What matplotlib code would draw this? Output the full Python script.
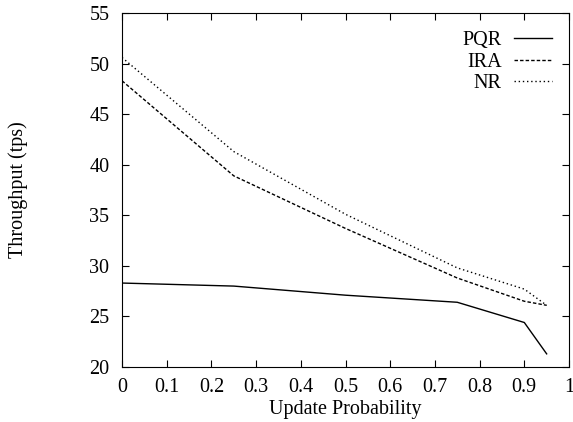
import matplotlib
matplotlib.use('Agg')
import matplotlib.pyplot as plt

# data
update_prob = [0, 0.25, 0.5, 0.75, 0.9, 0.95]
pqr = [28.3, 28.0, 27.1, 26.4, 24.4, 21.3]
ira = [48.3, 38.9, 33.7, 28.8, 26.5, 26.1]
nr = [50.6, 41.3, 35.1, 29.8, 27.7, 26.1]

plt.rcParams['font.family'] = 'Liberation Serif'
plt.rcParams['font.size'] = 14.5

fig = plt.figure(figsize=(5.73, 4.22), dpi=100)
ax = fig.add_axes([122/573, 1 - 367/422, (569-122)/573, (367-13)/422])

ax.plot(update_prob, pqr, color='black', lw=1, linestyle='-', label='PQR')
ax.plot(update_prob, ira, color='black', lw=1, linestyle=(0, (2.5, 1.5)), label='IRA')
ax.plot(update_prob, nr, color='black', lw=1, linestyle=(0, (1, 2)), label='NR')

ax.set_xlim(0, 1)
ax.set_ylim(20, 55)
ax.set_xticks([0, 0.1, 0.2, 0.3, 0.4, 0.5, 0.6, 0.7, 0.8, 0.9, 1])
ax.set_xticklabels(['0', '0.1', '0.2', '0.3', '0.4', '0.5', '0.6', '0.7', '0.8', '0.9', '1'])
ax.set_yticks(range(20, 56, 5))
ax.tick_params(direction='in', top=True, right=True, length=5, width=0.8)
ax.tick_params(axis='x', pad=8)
ax.tick_params(axis='y', pad=9)
ax.set_xlabel('Update Probability', labelpad=2)
ax.set_ylabel('Throughput (tps)', labelpad=44)

ax.legend(loc='upper right', frameon=False, markerfirst=False, handlelength=1.9,
          handletextpad=0.6, labelspacing=0.13, borderaxespad=0,
          bbox_to_anchor=(0.98, 0.972))

plt.savefig('out.png')
